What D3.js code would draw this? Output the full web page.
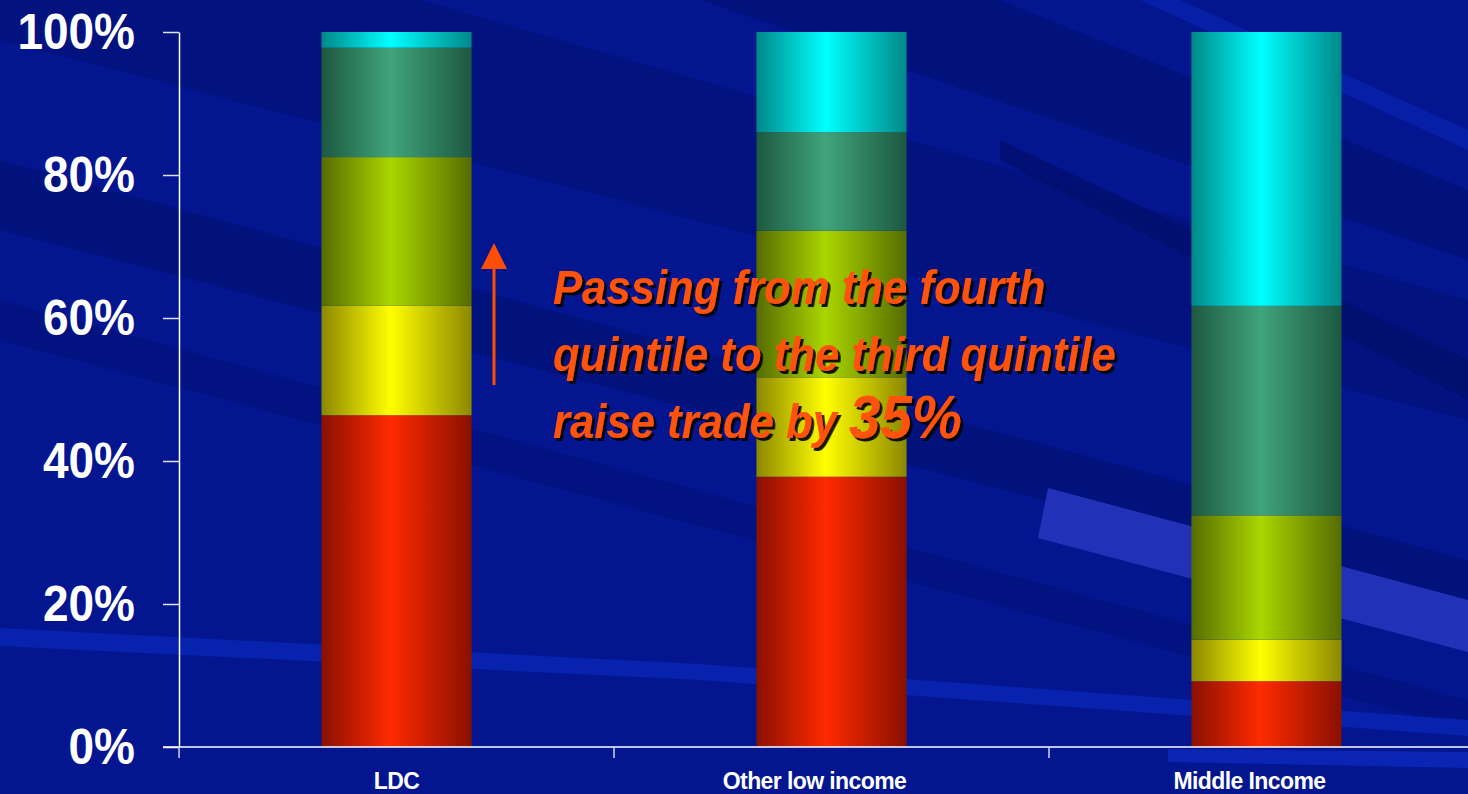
<!DOCTYPE html>
<html>
<head>
<meta charset="utf-8">
<script src="https://cdn.jsdelivr.net/npm/d3@7"></script>
<style>
  html, body { margin: 0; padding: 0; background: #03168f; overflow: hidden; }
  svg { display: block; font-family: "Liberation Sans", Arial, sans-serif; }
</style>
</head>
<body>
<div id="chart"></div>
<script>
// categories along the x axis
const categories = ["LDC", "Other low income", "Middle Income"];

// share of trade by quintile (%), bottom segment first
const seriesNames = ["q5", "q4", "q3", "q2", "q1"];
const q5 = [46.4, 37.8, 9.2];   // red
const q4 = [15.3, 13.9, 5.8];   // yellow
const q3 = [20.8, 20.5, 17.4];  // yellow-green
const q2 = [15.3, 13.8, 29.3];  // green
const q1 = [2.2, 14.0, 38.3];   // cyan

const yTicks = [0, 20, 40, 60, 80, 100];

const noteLines = ["Passing from the fourth", "quintile to the third quintile", "raise trade by "];
const noteBig = "35%";

const W = 1468, H = 794;

const svg = d3.select('#chart').append('svg')
  .attr('width', W)
  .attr('height', H);

const defs = svg.append('defs');

// drop shadow for the orange note
const shadow = defs.append('filter').attr('id', 'shadow')
  .attr('x', '-5%').attr('y', '-10%').attr('width', '115%').attr('height', '130%');
shadow.append('feDropShadow')
  .attr('dx', 3).attr('dy', 3).attr('stdDeviation', 0.4)
  .attr('flood-color', '#000000').attr('flood-opacity', 0.9);

// background: dark blue with diagonal streaks
svg.append('rect').attr('width', W).attr('height', H).attr('fill', '#03168f');

const streaks = [
  {p: [[0,0],[420,0],[1468,300],[1468,420],[0,40]], c: '#02117a', o: 0.8},
  {p: [[0,160],[1468,560],[1468,610],[0,230]], c: '#021070', o: 0.55},
  {p: [[0,300],[1468,700],[1468,730],[0,340]], c: '#021070', o: 0.45},
  {p: [[700,0],[1000,0],[1468,190],[1468,260]], c: '#011070', o: 0.6},
  {p: [[1140,0],[1180,0],[1468,130],[1468,150]], c: '#0a24b0', o: 0.7},
  {p: [[1000,140],[1468,360],[1468,400],[1000,160]], c: '#010d66', o: 0.6},
  {p: [[0,628],[700,664],[1468,720],[1468,736],[700,680],[0,646]], c: '#0722ad', o: 1},
  {p: [[1048,488],[1468,600],[1468,652],[1038,538]], c: '#2232b8', o: 1},
  {p: [[1168,749],[1468,752],[1468,768],[1168,762]], c: '#0a24b4', o: 1}
];
svg.append('g').selectAll('polygon')
  .data(streaks)
  .join('polygon')
  .attr('points', d => d.p.map(q => q.join(',')).join(' '))
  .attr('fill', d => d.c)
  .attr('opacity', d => d.o);

// bar gradients: dark edges, bright middle
const colours = {
  q5: ['#8a1000', '#ff2a00'],
  q4: ['#8c8800', '#ffff00'],
  q3: ['#566c00', '#aad600'],
  q2: ['#1d5840', '#40a47c'],
  q1: ['#008888', '#00ffff']
};
seriesNames.forEach(function(k){
  const g = defs.append('linearGradient')
    .attr('id', 'grad-' + k)
    .attr('x1', '0%').attr('x2', '100%').attr('y1', '0%').attr('y2', '0%');
  g.append('stop').attr('offset', '0%').attr('stop-color', colours[k][0]);
  g.append('stop').attr('offset', '46%').attr('stop-color', colours[k][1]);
  g.append('stop').attr('offset', '100%').attr('stop-color', colours[k][0]);
});

// scales
const x = d3.scaleBand()
  .domain(categories)
  .range([179, 1484])
  .paddingInner(0.655)
  .paddingOuter(0.3276);

const y = d3.scaleLinear()
  .domain([0, 100])
  .range([747, 32]);

const table = categories.map((c, i) => ({cat: c, q5: q5[i], q4: q4[i], q3: q3[i], q2: q2[i], q1: q1[i]}));
const stacked = d3.stack().keys(seriesNames)(table);

// bars
svg.append('g').selectAll('g')
  .data(stacked)
  .join('g')
    .attr('fill', d => 'url(#grad-' + d.key + ')')
  .selectAll('rect')
  .data(d => d)
  .join('rect')
    .attr('x', d => x(d.data.cat))
    .attr('y', d => y(d[1]))
    .attr('width', x.bandwidth())
    .attr('height', d => y(d[0]) - y(d[1]));

// y axis
const yAxis = svg.append('g')
  .attr('transform', 'translate(179,0)')
  .call(d3.axisLeft(y).tickValues(yTicks).tickFormat(d => d + '%').tickSize(16).tickSizeOuter(0));
yAxis.select('.domain').attr('stroke', '#ffffff').attr('stroke-width', 1.5);
yAxis.selectAll('.tick line').attr('stroke', '#dfe3f5').attr('stroke-width', 1.5);
yAxis.selectAll('.tick text')
  .attr('fill', '#ffffff')
  .attr('font-size', 50)
  .attr('font-weight', 'bold')
  .attr('font-family', '"Liberation Sans", Arial, sans-serif')
  .attr('text-anchor', 'end')
  .attr('x', -44 / 0.92)
  .attr('dy', '0.33em')
  .attr('transform', 'scale(0.92,1)');

// x axis
const xAxis = svg.append('g')
  .attr('transform', 'translate(0,747)')
  .call(d3.axisBottom(x).tickSize(0).tickSizeOuter(0));
xAxis.select('.domain').remove();
xAxis.selectAll('.tick text')
  .attr('fill', '#ffffff')
  .attr('font-size', 23)
  .attr('font-weight', 'bold')
  .attr('font-family', '"Liberation Sans", Arial, sans-serif')
  .attr('letter-spacing', '-0.6')
  .attr('y', 42)
  .attr('dy', 0)
  .attr('dx', (d, i) => i === 0 ? 0 : -17);

svg.append('line')
  .attr('x1', 163).attr('x2', W)
  .attr('y1', 747).attr('y2', 747)
  .attr('stroke', '#ffffff').attr('stroke-width', 1.5);

// category separators under the baseline
const gap = x.step() - x.bandwidth();
svg.append('g').selectAll('line')
  .data(categories)
  .join('line')
  .attr('x1', d => x(d) - gap / 2)
  .attr('x2', d => x(d) - gap / 2)
  .attr('y1', 747).attr('y2', 758)
  .attr('stroke', '#cfd4ee').attr('stroke-width', 1.5);

// arrow
const arrowX = 494;
svg.append('line')
  .attr('x1', arrowX).attr('x2', arrowX)
  .attr('y1', 385).attr('y2', 266)
  .attr('stroke', '#ff4d05').attr('stroke-width', 3);
svg.append('polygon')
  .attr('points', `${arrowX},243 ${arrowX - 13},269 ${arrowX + 13},269`)
  .attr('fill', '#ff4d05');

// annotation
const note = svg.append('g')
  .attr('font-weight', 'bold')
  .attr('font-style', 'italic')
  .attr('font-family', '"Liberation Sans", Arial, sans-serif')
  .attr('fill', '#ff5208')
  .attr('filter', 'url(#shadow)')
  .attr('transform', 'translate(553,0) scale(0.91,1)');

noteLines.forEach(function(t, i){
  const tx = note.append('text')
    .attr('x', 0)
    .attr('y', 304 + i * 67)
    .attr('font-size', 48)
    .text(t);
  if (i === noteLines.length - 1) {
    tx.append('tspan').attr('font-size', 62).text(noteBig);
  }
});
</script>
</body>
</html>
